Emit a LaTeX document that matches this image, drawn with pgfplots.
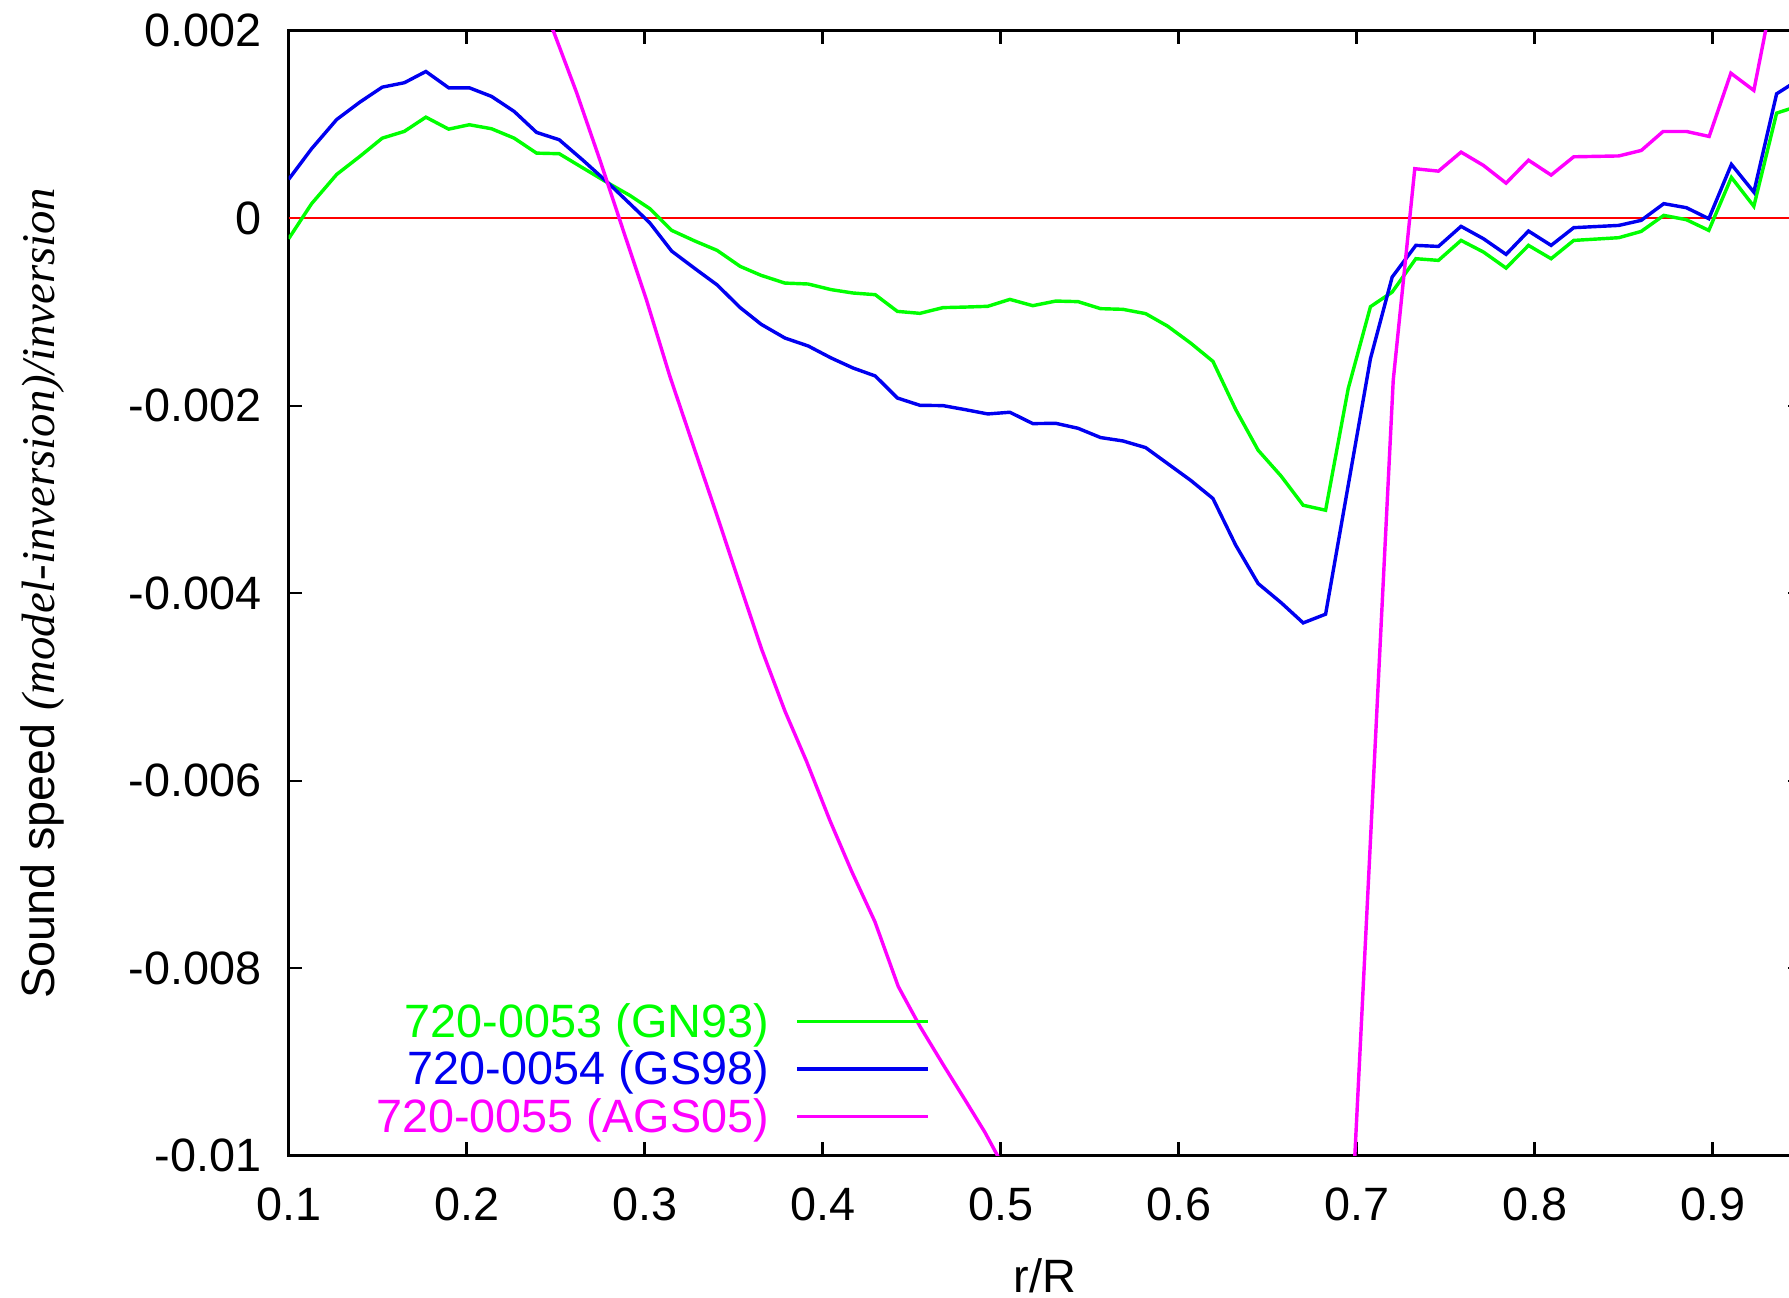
\documentclass[border=0pt]{standalone}
\usepackage{fontspec}
\setmainfont{Liberation Sans}
\newfontfamily\serifit{Liberation Serif}
\usepackage{pgfplots}
\pgfplotsset{compat=1.18}
\definecolor{gpgreen}{RGB}{0,255,0}
\definecolor{gpblue}{RGB}{0,0,240}
\definecolor{gpmag}{RGB}{255,0,255}
\begin{document}
\fontsize{10.25}{12.3}\selectfont
\begin{tikzpicture}
\useasboundingbox (-63.25pt,-31pt) rectangle (328.75pt,253.25pt);
\clip (-63.25pt,-31pt) rectangle (328.75pt,253.25pt);
\begin{axis}[
  at={(0pt,0pt)}, anchor=south west,
  scale only axis, width=331.5pt, height=246.5pt,
  xmin=0.1, xmax=0.95, ymin=-0.01, ymax=0.002,
  xtick={0.1,0.2,0.3,0.4,0.5,0.6,0.7,0.8,0.9},
  xticklabels={0.1,0.2,0.3,0.4,0.5,0.6,0.7,0.8,0.9},
  ytick={-0.01,-0.008,-0.006,-0.004,-0.002,0,0.002},
  yticklabels={-0.01,-0.008,-0.006,-0.004,-0.002,0,0.002},
  scaled y ticks=false,
  tick align=inside, xtick pos=both, ytick pos=both,
  xticklabel pos=bottom, yticklabel pos=left,
  major tick length=3pt,
  axis line style={line width=0.6pt},
  every tick/.style={black, line width=0.5pt},
  tick label style={font=\fontsize{10.25}{12.3}\selectfont},
  xticklabel style={yshift=-3.4pt},
  yticklabel style={xshift=-2.4pt},
  xlabel={r/R},
  ylabel={Sound speed {\serifit\itshape (model-inversion)/inversion}},
  label style={font=\fontsize{10.25}{12.3}\selectfont},
  xlabel style={at={(axis description cs:0.5,-0.1065)}, anchor=center},
  ylabel style={at={(axis description cs:-0.163,0.5)}, anchor=center},
  legend cell align=right, legend plot pos=right,
  legend style={draw=none, fill=none, at={(axis description cs:0.4238,0.1359)},
    anchor=north east, inner sep=0pt, outer sep=0pt, row sep=0pt, column sep=5.75pt,
    nodes={inner sep=0pt, text height=7.5pt, text depth=2.9pt},
    font=\fontsize{10.25}{12.3}\selectfont},
  legend image code/.code={\draw[#1] (0pt,1.1pt) -- (28.75pt,1.1pt);},
]
\addplot[red, line width=0.35pt, forget plot] coordinates {(0.1,0) (0.95,0)};
\addplot[gpgreen, line width=0.75pt] coordinates {
(0.1000,-0.000218) (0.1129,0.000156) (0.1270,0.000468) (0.1400,0.000660)
(0.1526,0.000855) (0.1650,0.000927) (0.1771,0.001079) (0.1899,0.000951)
(0.2015,0.000998) (0.2140,0.000955) (0.2267,0.000855) (0.2393,0.000695)
(0.2520,0.000689) (0.2655,0.000535) (0.2796,0.000375) (0.2917,0.000244)
(0.3030,0.000102) (0.3152,-0.000129) (0.3283,-0.000243) (0.3407,-0.000342)
(0.3537,-0.000513) (0.3655,-0.000609) (0.3788,-0.000691) (0.3919,-0.000701)
(0.4048,-0.000761) (0.4171,-0.000797) (0.4296,-0.000815) (0.4420,-0.000993)
(0.4547,-0.001014) (0.4676,-0.000953) (0.4801,-0.000947) (0.4928,-0.000939)
(0.5052,-0.000865) (0.5181,-0.000932) (0.5310,-0.000883) (0.5435,-0.000889)
(0.5562,-0.000964) (0.5687,-0.000971) (0.5815,-0.001017) (0.5938,-0.001150)
(0.6067,-0.001330) (0.6193,-0.001526) (0.6321,-0.002040) (0.6447,-0.002474)
(0.6576,-0.002750) (0.6700,-0.003061) (0.6826,-0.003114) (0.6953,-0.001817)
(0.7078,-0.000943) (0.7200,-0.000787) (0.7333,-0.000431) (0.7460,-0.000449)
(0.7587,-0.000236) (0.7713,-0.000360) (0.7840,-0.000531) (0.7966,-0.000289)
(0.8093,-0.000431) (0.8220,-0.000236) (0.8473,-0.000207) (0.8599,-0.000140)
(0.8726,0.000031) (0.8853,-0.000015) (0.8979,-0.000129) (0.9106,0.000436)
(0.9232,0.000128) (0.9360,0.001122) (0.9486,0.001200)
};
\addlegendentry{\textcolor{gpgreen}{720-0053 (GN93)}}
\addplot[gpblue, line width=0.75pt] coordinates {
(0.1000,0.000415) (0.1129,0.000742) (0.1270,0.001054) (0.1400,0.001239)
(0.1526,0.001399) (0.1650,0.001446) (0.1771,0.001566) (0.1899,0.001392)
(0.2015,0.001392) (0.2140,0.001300) (0.2267,0.001140) (0.2393,0.000916)
(0.2520,0.000838) (0.2655,0.000617) (0.2796,0.000375) (0.2917,0.000156)
(0.3030,-0.000051) (0.3152,-0.000350) (0.3283,-0.000537) (0.3407,-0.000710)
(0.3537,-0.000953) (0.3655,-0.001131) (0.3788,-0.001277) (0.3919,-0.001362)
(0.4048,-0.001490) (0.4171,-0.001597) (0.4296,-0.001682) (0.4420,-0.001917)
(0.4547,-0.001995) (0.4676,-0.001998) (0.4801,-0.002041) (0.4928,-0.002087)
(0.5052,-0.002069) (0.5181,-0.002190) (0.5310,-0.002187) (0.5435,-0.002240)
(0.5562,-0.002339) (0.5687,-0.002375) (0.5815,-0.002446) (0.5938,-0.002616)
(0.6067,-0.002794) (0.6193,-0.002989) (0.6321,-0.003487) (0.6447,-0.003896)
(0.6576,-0.004100) (0.6700,-0.004316) (0.6826,-0.004223) (0.7078,-0.001497)
(0.7200,-0.000627) (0.7333,-0.000289) (0.7460,-0.000300) (0.7587,-0.000086)
(0.7713,-0.000218) (0.7840,-0.000385) (0.7966,-0.000136) (0.8093,-0.000289)
(0.8220,-0.000100) (0.8473,-0.000076) (0.8599,-0.000022) (0.8726,0.000156)
(0.8853,0.000113) (0.8979,-0.000004) (0.9106,0.000575) (0.9232,0.000279)
(0.9360,0.001328) (0.9486,0.001480)
};
\addlegendentry{\textcolor{gpblue}{720-0054 (GS98)}}
\addplot[gpmag, line width=0.75pt] coordinates {
(0.2356,0.002360) (0.2487,0.002000) (0.2618,0.001340) (0.2749,0.000620)
(0.2880,-0.000130) (0.3011,-0.000875) (0.3142,-0.001686) (0.3273,-0.002423)
(0.3404,-0.003155) (0.3535,-0.003905) (0.3657,-0.004595) (0.3788,-0.005255)
(0.3910,-0.005794) (0.4041,-0.006424) (0.4163,-0.006965) (0.4294,-0.007504)
(0.4425,-0.008194) (0.4547,-0.008620) (0.4678,-0.009030) (0.4799,-0.009400)
(0.4912,-0.009750) (0.5040,-0.010200) (0.5170,-0.010700) (0.6000,-0.013000)
(0.6826,-0.016300) (0.7206,-0.001728) (0.7327,0.000529) (0.7460,0.000503)
(0.7587,0.000706) (0.7713,0.000564) (0.7840,0.000375) (0.7966,0.000620)
(0.8093,0.000461) (0.8220,0.000656) (0.8473,0.000665) (0.8600,0.000724)
(0.8722,0.000926) (0.8854,0.000926) (0.8981,0.000873) (0.9103,0.001548)
(0.9232,0.001364) (0.9360,0.002600) (0.9486,0.003000)
};
\addlegendentry{\textcolor{gpmag}{720-0055 (AGS05)}}
\end{axis}
\end{tikzpicture}
\end{document}
